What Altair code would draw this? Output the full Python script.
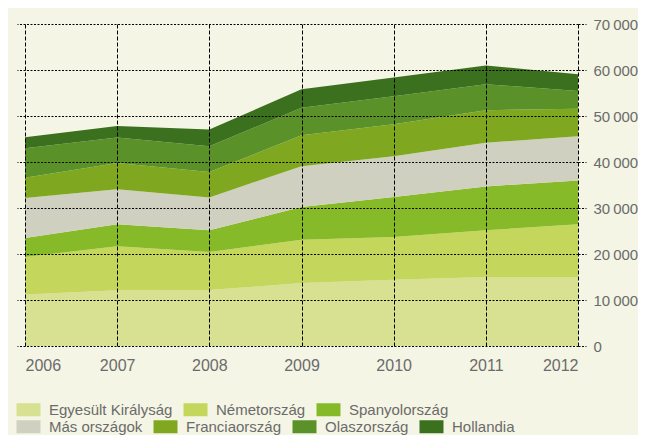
import altair as alt
import pandas as pd

years = [2006, 2007, 2008, 2009, 2010, 2011, 2012]
series = ["Egyesült Királyság", "Németország", "Spanyolország",
          "Más országok", "Franciaország", "Olaszország", "Hollandia"]
uk  = [11200, 12100, 12150, 13700, 14400, 15000, 15000]
de  = [8150, 9600, 8300, 9400, 9300, 10150, 11450]
es  = [4150, 4750, 4700, 7100, 8700, 9550, 9550]
mas = [8700, 7600, 7150, 8900, 8850, 9500, 9600]
fr  = [4400, 5750, 5500, 6700, 6950, 7050, 6000]
it  = [6400, 5500, 5600, 6000, 6100, 5650, 3850]
nl  = [2400, 2500, 3650, 4000, 4050, 4100, 3600]
colors = ["#d8e091", "#c5d65c", "#87ba29", "#d0d0c0", "#7fa820", "#5a9229", "#3a701e"]
legend_row = [1, 1, 1, 2, 2, 2, 2]
y_ticks = [0, 10000, 20000, 30000, 40000, 50000, 60000, 70000]

values = [uk, de, es, mas, fr, it, nl]
rows = []
for i, (name, vals) in enumerate(zip(series, values)):
    for yr, v in zip(years, vals):
        rows.append({"year": yr, "series": name, "value": v, "order": i, "row": legend_row[i]})
df = pd.DataFrame(rows)

FONT = "Liberation Sans"
TXT = "#6b6b6b"
swatch = "M-1.846,-1H1.846V1H-1.846Z"

base = alt.Chart(df).transform_stack(
    stack="value", groupby=["year"], as_=["y0", "y1"],
    sort=[alt.SortField("order", order="ascending")]
)

xenc = alt.X("year:Q", scale=alt.Scale(domain=[2006, 2012], nice=False, zero=False),
             axis=alt.Axis(values=years, format="d", title=None, domain=False, ticks=False,
                           grid=True, gridColor="black", gridDash=[4, 2], gridWidth=1,
                           labelFontSize=16, labelColor=TXT, labelPadding=11, labelFont=FONT,
                           zindex=1))

def legend(y, ncol):
    return alt.Legend(orient="none", legendX=-4, legendY=y,
                      direction="horizontal", columns=ncol, title=None,
                      symbolType=swatch, symbolSize=169, symbolStrokeWidth=0,
                      symbolOpacity=1, labelFontSize=15, labelColor=TXT,
                      labelFont=FONT, labelOffset=13, columnPadding=10)

layer1 = base.transform_filter(alt.datum.row == 1).mark_area(opacity=1).encode(
    x=xenc,
    y=alt.Y("y0:Q", scale=alt.Scale(domain=[0, 70000], nice=False),
            axis=alt.Axis(orient="right", values=y_ticks, title=None, domain=False,
                          grid=True, gridColor="black", gridDash=[2, 1.5], gridWidth=1,
                          ticks=True, tickSize=8, tickColor="black", tickDash=[2, 1.5],
                          labelPadding=7, labelFontSize=15, labelColor=TXT, labelFont=FONT,
                          labelExpr="replace(format(datum.value, ','), ',', '\u2009')",
                          zindex=1)),
    y2="y1:Q",
    color=alt.Color("series:N", scale=alt.Scale(domain=series[:3], range=colors[:3]),
                    legend=legend(378, 3)),
)

layer2 = base.transform_filter(alt.datum.row == 2).mark_area(opacity=1).encode(
    x=xenc,
    y=alt.Y("y0:Q", scale=alt.Scale(domain=[0, 70000], nice=False),
            axis=alt.Axis(orient="left", values=y_ticks, title=None, domain=False,
                          grid=False, labels=False, ticks=True, tickSize=8,
                          tickColor="black", tickDash=[2, 1.5], zindex=1)),
    y2="y1:Q",
    color=alt.Color("series:N", scale=alt.Scale(domain=series[3:], range=colors[3:]),
                    legend=legend(395, 4)),
)

chart = alt.layer(layer1, layer2).resolve_scale(color="independent").resolve_axis(
    y="independent"
).properties(
    width=553, height=322,
    padding={"left": 17, "top": 16, "right": 60, "bottom": 89},
    autosize=alt.AutoSizeParams(type="none"),
).configure(background="#f4f5e4", font=FONT).configure_view(strokeOpacity=0)

chart.save("out.html", embed_options={"renderer": "svg", "actions": False})
